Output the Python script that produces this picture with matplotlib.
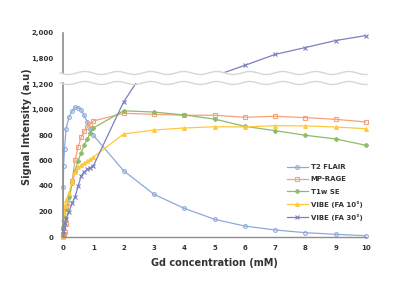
import numpy as np
import matplotlib
matplotlib.use('Agg')
import matplotlib.pyplot as plt
from matplotlib.lines import Line2D

plt.rcParams['font.family'] = ['DejaVu Sans']

# Gd concentration (mM)
conc = [0, 0.01, 0.02, 0.05, 0.1, 0.2, 0.3, 0.4, 0.5, 0.6, 0.7, 0.8, 0.9, 1.0,
        2, 3, 4, 5, 6, 7, 8, 9, 10]

t2_flair = [0, 395, 560, 690, 849, 943, 985, 1017, 1015, 996, 954, 902, 845, 798,
            520, 335, 225, 139, 86, 55, 34, 21, 10]
mp_rage = [5, 15, 25, 40, 100, 270, 441, 604, 708, 782, 830, 860, 885, 910,
           970, 962, 955, 955, 939, 947, 936, 923, 902]
t1w_se = [60, 80, 100, 150, 220, 316, 420, 518, 600, 660, 722, 769, 813, 855,
          990, 980, 957, 925, 868, 834, 798, 769, 719]
vibe_fa10 = [0, 140, 199, 240, 290, 347, 430, 510, 547, 565, 580, 595, 610, 627,
             808, 839, 855, 865, 863, 873, 871, 863, 849]
vibe_fa30 = [20, 50, 80, 110, 139, 199, 264, 316, 400, 480, 510, 530, 545, 557,
             1059, 1420, 1560, 1663, 1746, 1832, 1886, 1941, 1980]

series = [
    ('T2 FLAIR', t2_flair, '#8EA9DB', 'o'),
    ('MP-RAGE', mp_rage, '#F4A27A', 's'),
    ('T1w SE', t1w_se, '#8DBB6A', 'P'),
    ('VIBE (FA 10°)', vibe_fa10, '#FFC83D', '^'),
    ('VIBE (FA 30°)', vibe_fa30, '#7B7FBF', 'x'),
]

fig = plt.figure(figsize=(4, 2.96), dpi=100)
ax_b = fig.add_axes([63/400, 59/296, 303/400, 154/296])
ax_t = fig.add_axes([63/400, 223/296, 303/400, 40/296])

low_top = 154/0.1275
high_bot = 2000 - 40/0.1275
tc = '#333333'

x = np.array(conc)
for name, vals, col, mk in series:
    y = np.array(vals)
    for ax, lo, hi in [(ax_b, 0, low_top), (ax_t, high_bot, 2000)]:
        ax.plot(x, y, color=col, lw=0.9)
        m = (y >= lo) & (y <= hi)
        face = 'none' if mk in ('o', 's') else col
        ax.plot(x[m], y[m], ls='none', marker=mk, ms=2.7, mfc=face, mec=col,
                mew=0.8, clip_on=False)

ax_b.set_ylim(0, low_top)
ax_t.set_ylim(high_bot, 2000)
ax_b.set_yticks(range(0, 1201, 200))
ax_t.set_yticks([1800, 2000])
ax_b.set_xticks(range(0, 11))

for ax in (ax_b, ax_t):
    ax.set_xlim(0, 10)
    ax.set_facecolor('none')
    for s in ('top', 'right'):
        ax.spines[s].set_visible(False)
    ax.spines['left'].set_color('#8C8C8C')
    ax.spines['left'].set_linewidth(1.2)
    ax.tick_params(length=0, labelsize=5, labelcolor=tc, pad=7)
    ax.set_yticklabels(['{:,}'.format(int(v)) for v in ax.get_yticks()], fontweight='bold')

ax_t.spines['bottom'].set_visible(False)
ax_t.set_xticks([])
ax_b.spines['bottom'].set_color('#8C8C8C')
ax_b.spines['bottom'].set_linewidth(1.0)
ax_b.set_xticklabels([str(v) for v in range(0, 11)], fontweight='bold')
ax_b.tick_params(axis='x', pad=6)

# broken axis marks: two wavy lines
wx = np.linspace(60, 367, 300)
for yy in (73, 83):
    wy = yy + 1.5*np.sin((wx - 60)/33.0*2*np.pi)
    fig.add_artist(Line2D(wx/400, 1 - wy/296, color='#D6D6D6', lw=1.0))

ax_b.set_xlabel('Gd concentration (mM)', fontsize=7, fontweight='bold', color=tc, labelpad=5)
fig.text(27/400, 1 - 127/296, 'Signal Intensity (a.u)', rotation=90, fontsize=7,
         fontweight='bold', color=tc, ha='center', va='center')

handles = [Line2D([], [], color=c, lw=0.9, marker=m, ms=2.7,
                  mfc='none' if m in ('o', 's') else c, mec=c, mew=0.8)
           for _, _, c, m in series]
ax_b.legend(handles, [s[0] for s in series], loc='upper left',
            bbox_to_anchor=(287/400, 1 - 164/296), bbox_transform=fig.transFigure,
            frameon=False, prop={'size': 5, 'weight': 'bold'},
            labelcolor=tc, handlelength=3.0, handletextpad=0.4, labelspacing=0.9,
            borderaxespad=0, borderpad=0)

plt.savefig('out.png', dpi=100)
